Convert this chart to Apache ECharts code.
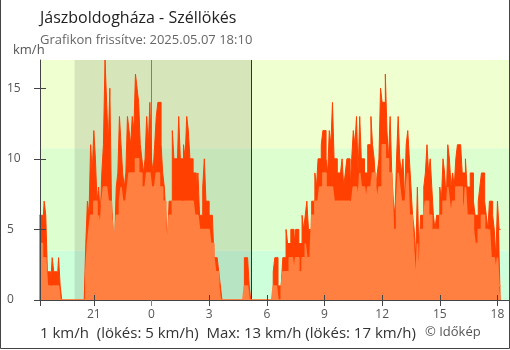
<!DOCTYPE html>
<html>
<head>
<meta charset="utf-8">
<script src="https://cdn.jsdelivr.net/npm/echarts@6/dist/echarts.min.js"></script>
<style>
  html, body { margin: 0; padding: 0; background: #fff; }
  #chart { width: 510px; height: 350px; }
</style>
</head>
<body>
<div id="chart"></div>
<script>
// Wind at Jászboldogháza, 5-minute samples from 18:10 (previous day) to 18:10, km/h.
// Hours are counted relative to midnight, so the previous evening is negative.
const startHour = -35 / 6;
const stepHours = 5 / 60;

// Gusts (széllökés)
const gust = [
  6,6,5,7,6,2,2,1,3,2,2,1,3,1,
  0,0,0,0,0,0,0,0,0,0,0,0,0,0,0,
  4,7,6,11,9,12,10,7,8,6,9,11,17,14,
  11,15,7,5,4,8,9,13,11,9,8,9,13,12,
  11,13,12,16,15,14,11,10,9,10,13,11,14,10,
  9,11,13,14,14,11,9,8,6,4,7,7,12,10,10,9,
  13,10,10,11,10,13,12,10,10,9,9,8,9,6,
  6,8,10,7,7,6,6,6,3,3,3,2,1,
  0,0,0,0,0,0,0,0,0,0,0,0,0,0,
  3,3,3,1,
  0,0,0,0,0,0,0,0,0,0,0,0,0,0,
  2,3,3,1,1,1,3,3,5,4,4,5,5,4,5,
  5,4,4,6,5,6,7,5,5,7,7,9,8,10,10,
  11,12,12,10,9,12,11,14,10,10,9,9,9,10,8,
  9,10,10,8,10,12,11,13,9,13,10,10,9,9,11,
  11,13,11,10,8,9,10,15,14,14,16,12,10,13,9,
  7,6,10,13,10,9,10,7,11,12,10,8,6,5,3,
  8,3,6,6,8,9,11,9,10,8,6,5,6,6,8,
  7,10,9,7,11,10,8,9,8,10,11,11,11,9,9,
  10,8,8,9,9,7,6,6,7,8,9,9,7,6,5,
  7,7,6,5,3,7,5
];

// Average wind speed
const avg = [
  4,4,3,3,3,1,1,0,1,1,1,1,1,0,
  0,0,0,0,0,0,0,0,0,0,0,0,0,0,0,
  2,4,5,6,6,7,7,5,6,5,7,8,8,8,
  7,7,6,5,4,6,6,7,8,7,7,7,8,9,
  9,9,9,10,10,9,9,8,8,8,9,9,9,8,
  8,8,9,9,8,8,7,7,5,4,6,6,7,7,7,7,
  7,7,6,7,7,7,7,7,7,7,6,6,6,5,
  5,5,5,5,5,5,4,4,3,2,2,1,0,
  0,0,0,0,0,0,0,0,0,0,0,0,0,0,
  1,1,1,0,
  0,0,0,0,0,0,0,0,0,0,0,0,0,0,
  1,1,1,0,0,1,2,2,2,2,3,3,3,2,3,
  3,2,2,3,3,4,3,3,3,6,6,7,7,7,8,
  8,9,9,8,8,8,8,8,7,7,7,7,7,7,7,
  7,7,7,6,7,8,8,8,7,9,8,8,8,7,8,
  8,8,9,9,8,7,8,8,11,11,10,10,9,9,9,
  5,5,7,9,8,7,7,6,8,9,6,6,5,3,1,
  4,1,5,5,6,7,7,6,6,4,5,5,5,5,6,
  6,7,7,6,8,7,6,7,7,8,8,8,8,7,6,
  8,6,6,6,6,5,4,4,5,5,6,6,5,5,4,
  5,3,3,3,2,3,1
];

const hourLabels = [-3, 0, 3, 6, 9, 12, 15, 18];
const speedLabels = [0, 5, 10, 15];
// Wind-strength bands (km/h) drawn behind the plot
const bandLimits = [0, 3.5, 10.75, 17];
const bandColors = ['#ccffda', '#ddffcf', '#f0ffd0'];
// Night: sunset to sunrise
const nightSpan = [-4.0, 5.18];

const xMin = -5.8, xMax = 18.6;
const endHour = startHour + avg.length * stepHours;

function toSteps(values) {
  const pts = values.map((v, i) => [startHour + i * stepHours, v]);
  pts.push([endHour, values[values.length - 1]]);
  return pts;
}

const tickValues = [xMin].concat(hourLabels.filter(h => h !== 0));
const font = '"Open Sans", "Noto Sans", sans-serif';

const chart = echarts.init(document.getElementById('chart'), null, { renderer: 'canvas' });

const bandAreas = bandColors.map((c, i) => [
  { yAxis: bandLimits[i], itemStyle: { color: c } },
  { yAxis: bandLimits[i + 1] }
]);
bandAreas.push([
  { xAxis: nightSpan[0], itemStyle: { color: 'rgba(0,0,0,0.1)' } },
  { xAxis: nightSpan[1] }
]);

const yCommon = { type: 'value', min: 0, max: 17, position: 'left', offset: 0, z: 10, splitLine: { show: false } };
const xCommon = { type: 'value', min: xMin, max: xMax, position: 'bottom', offset: 0, z: 10, splitLine: { show: false } };

chart.setOption({
  animation: false,
  grid: { left: 40, right: 1, top: 60, bottom: 50, outerBoundsMode: 'none' },
  xAxis: [
    Object.assign({}, xCommon, {
      axisLine: { show: true, onZero: false, lineStyle: { color: '#444', width: 1 } },
      axisTick: { show: true, length: 6, customValues: tickValues, lineStyle: { color: '#444' } },
      axisLabel: {
        customValues: hourLabels, margin: 9, color: '#555', fontSize: 12, fontFamily: font,
        formatter: v => String(((v % 24) + 24) % 24)
      }
    }),
    Object.assign({}, xCommon, {
      axisLine: { show: false, onZero: false },
      axisTick: { show: true, inside: true, length: 5, customValues: tickValues, lineStyle: { color: '#444' } },
      axisLabel: { show: false }
    }),
    Object.assign({}, xCommon, {
      axisLine: { show: false, onZero: false },
      axisTick: { show: true, length: 6, customValues: [0], lineStyle: { color: '#3d8fd6' } },
      axisLabel: { show: false }
    })
  ],
  yAxis: [
    Object.assign({}, yCommon, {
      axisLine: { show: true, onZero: false, lineStyle: { color: '#444', width: 1 } },
      axisTick: { show: true, length: 6, customValues: speedLabels, lineStyle: { color: '#444' } },
      axisLabel: { customValues: speedLabels, align: 'left', margin: 33, color: '#555', fontSize: 12, fontFamily: font }
    }),
    Object.assign({}, yCommon, {
      axisLine: { show: false, onZero: false },
      axisTick: { show: true, inside: true, length: 6, customValues: speedLabels, lineStyle: { color: '#444' } },
      axisLabel: { show: false }
    })
  ],
  series: [
    {
      type: 'line', name: 'backdrop', data: [], z: 0, silent: true,
      markArea: { silent: true, z: 0, data: bandAreas },
      markLine: {
        silent: true, z: 1, symbol: ['none', 'none'], label: { show: false },
        data: [
          { xAxis: 0, lineStyle: { color: '#3d8fd6', width: 1, type: 'solid' } },
          { xAxis: nightSpan[1], lineStyle: { color: '#333', width: 1, type: 'solid' } }
        ]
      }
    },
    {
      type: 'line', name: 'Széllökés', data: toSteps(gust), step: 'end', z: 2,
      showSymbol: false, symbol: 'none',
      lineStyle: { color: '#ff4000', width: 1 },
      areaStyle: { color: '#ff4000', opacity: 1 }
    },
    {
      type: 'line', name: 'Átlag', data: toSteps(avg), step: 'end', z: 3,
      showSymbol: false, symbol: 'none',
      lineStyle: { color: '#ff8040', width: 1.5 },
      areaStyle: { color: '#ff8040', opacity: 1 },
      markLine: {
        silent: true, symbol: ['none', 'none'], label: { show: false },
        data: [[
          { coord: [startHour, 0], lineStyle: { color: '#ff8040', width: 4, type: 'solid' } },
          { coord: [endHour, 0] }
        ]]
      }
    }
  ],
  graphic: [
    {
      type: 'polyline', silent: true,
      shape: { points: [[0.5, 0], [0.5, 348.5], [509.5, 348.5], [509.5, 0]] },
      style: { stroke: '#444', fill: null, lineWidth: 1 }
    },
    {
      type: 'text', x: 40, y: 18.5,
      style: { text: 'Jászboldogháza - Széllökés', font: '16px ' + font, fill: '#222', verticalAlign: 'middle' }
    },
    {
      type: 'text', x: 40, y: 40.5,
      style: { text: 'Grafikon frissítve: 2025.05.07 18:10', font: '13px ' + font, fill: '#666', verticalAlign: 'middle' }
    },
    {
      type: 'text', x: 13, y: 50.5,
      style: { text: 'km/h', font: '13px ' + font, fill: '#555', verticalAlign: 'middle' }
    },
    {
      type: 'text', x: 40, y: 334,
      style: { text: '1 km/h  (lökés: 5 km/h)  Max: 13 km/h (lökés: 17 km/h)', font: '15px ' + font, fill: '#333', verticalAlign: 'middle' }
    },
    {
      type: 'text', x: 425, y: 332,
      style: { text: '© Időkép', font: '13px ' + font, fill: '#555', verticalAlign: 'middle' }
    }
  ]
});
</script>
</body>
</html>
